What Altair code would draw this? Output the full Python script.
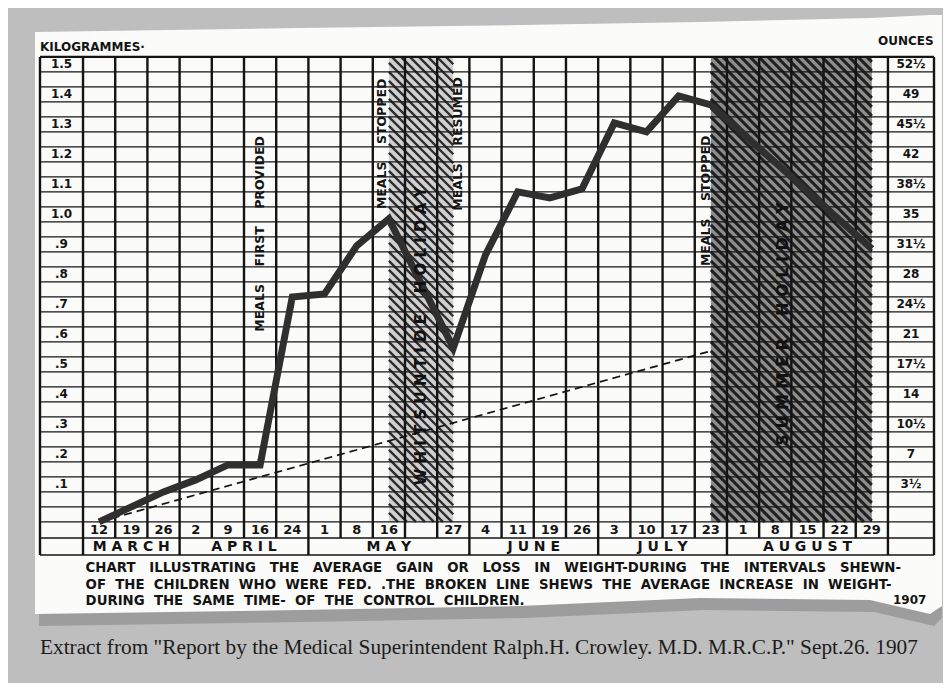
import math
import altair as alt
import pandas as pd

# ---------------- data ----------------
months = ["MARCH", "APRIL", "MAY", "JUNE", "JULY", "AUGUST"]
month_days = [
    ["12", "19", "26"],
    ["2", "9", "16", "24"],
    ["1", "8", "16", "", "27"],
    ["4", "11", "19", "26"],
    ["3", "10", "17", "23"],
    ["1", "8", "15", "22", "29"],
]
# weekly column index (0 = 12 March) and average gain (kg) of the fed children
fed_cols = [0, 1, 2, 3, 4, 5, 6, 7, 8, 9, 11, 12, 13, 14, 15, 16, 17, 18, 19, 24]
fed_kg = [0.00, 0.05, 0.10, 0.14, 0.19, 0.19, 0.75, 0.76, 0.92, 1.01,
          0.58, 0.89, 1.10, 1.08, 1.11, 1.33, 1.30, 1.42, 1.39, 0.91]
# control children (broken line)
control_cols = [0, 19]
control_kg = [0.00, 0.57]

kg_ticks = [0.1, 0.2, 0.3, 0.4, 0.5, 0.6, 0.7, 0.8, 0.9, 1.0, 1.1, 1.2, 1.3, 1.4, 1.5]
kg_labels = [".1", ".2", ".3", ".4", ".5", ".6", ".7", ".8", ".9",
             "1.0", "1.1", "1.2", "1.3", "1.4", "1.5"]
oz_labels = ["3½", "7", "10½", "14", "17½", "21", "24½", "28", "31½",
             "35", "38½", "42", "45½", "49", "52½"]

holiday_names = ["WHITSUNTIDE HOLIDAY", "SUMMER HOLIDAY"]
holiday_start = [9, 19]
holiday_end = [11, 24]
holiday_label_col = [10.0, 21.25]
holiday_label_kg = [0.62, 0.66]

note_texts = ["MEALS FIRST PROVIDED", "MEALS STOPPED", "MEALS RESUMED", "MEALS STOPPED"]
note_cols = [5.0, 8.8, 11.15, 18.85]
note_kg = [0.96, 1.26, 1.26, 1.07]

caption_lines = [
    "CHART ILLUSTRATING THE AVERAGE GAIN OR LOSS IN WEIGHT-DURING THE INTERVALS SHEWN-",
    "OF THE CHILDREN WHO WERE FED. .THE BROKEN LINE SHEWS THE AVERAGE INCREASE IN WEIGHT-",
    "DURING THE SAME TIME- OF THE CONTROL CHILDREN.",
]
year_text = "1907"
footer_text = 'Extract from "Report by the Medical Superintendent Ralph.H. Crowley. M.D. M.R.C.P." Sept.26. 1907'

# ---------------- layout ----------------
W, H = 935, 675
XD = [-2.33, 26.71]          # column units (1 = one week column)
YD = [-0.537, 1.713]         # kilograms
PXC = W / (XD[1] - XD[0])
PXK = H / (YD[1] - YD[0])

def c_of(px):   # page pixel -> column units
    return XD[0] + (px - 8) / PXC

def v_of(py):   # page pixel -> kg units
    return YD[1] - (py - 8) / PXK

def spaced(t, word_gap=3, letter_gap=0):
    nb = "\u00a0"
    words = t.split(" ")
    if letter_gap:
        words = [(nb * letter_gap).join(w) for w in words]
    return (nb * word_gap).join(words)

LEFT, RIGHT = c_of(40), c_of(934)
NCOL = sum(len(d) for d in month_days)
TOP = 1.55
ROW1 = v_of(538)
ROW2 = v_of(555)
FONT = "DejaVu Sans"
INK = "#141414"

xs = alt.Scale(domain=XD, nice=False, zero=False)
ys = alt.Scale(domain=YD, nice=False, zero=False)

def X(f):
    return alt.X(f, type="quantitative", scale=xs, axis=None)

def Y(f):
    return alt.Y(f, type="quantitative", scale=ys, axis=None)

# ---------------- paper ----------------
paper_px = [35, 300, 520, 700, 870, 930, 942]
paper_top_px = [32, 28, 25, 22, 18, 15, 15]
paper_bot_px = [614, 610, 606, 598, 600, 614, 606]
paper = pd.DataFrame({"c": [c_of(p) for p in paper_px],
                      "t": [v_of(p) for p in paper_top_px],
                      "b": [v_of(p) for p in paper_bot_px]})
shadow = pd.DataFrame({"c": [c_of(min(p + 4, 942)) for p in paper_px],
                       "t": [v_of(p + 12) for p in paper_top_px],
                       "b": [v_of(p + 12) for p in paper_bot_px]})
shadow_layer = alt.Chart(shadow).mark_area(color="#9d9d9d").encode(x=X("c"), y=Y("t"), y2="b")
paper_layer = alt.Chart(paper).mark_area(color="#fbfbfa").encode(x=X("c"), y=Y("t"), y2="b")

# ---------------- hatched holidays ----------------
hol_rect = pd.DataFrame({"c": [s + 0.5 for s in holiday_start],
                         "c2": [e + 0.5 for e in holiday_end],
                         "v": 0.0, "v2": TOP, "k": ["w", "s"]})
hol_fill_layer = alt.Chart(hol_rect).mark_rect(strokeWidth=0).encode(
    x=X("c"), x2="c2", y=Y("v"), y2="v2",
    color=alt.Color("k:N", scale=alt.Scale(domain=["w", "s"], range=["#d0d0d0", "#8e8e8e"]),
                    legend=None))

# diagonal hatch strokes ("\" direction), generated from the holiday extents
PERIOD = 9.0
hx, hy, hx2, hy2, hk, hw = [], [], [], [], [], []
for k, wdt, (s_col, e_col) in zip(["w", "s"], [2.3, 3.0], zip(holiday_start, holiday_end)):
    x0 = 8 + (s_col + 0.5 - XD[0]) * PXC
    x1 = 8 + (e_col + 0.5 - XD[0]) * PXC
    y0 = 8 + (YD[1] - TOP) * PXK
    y1 = 8 + (YD[1] - 0.0) * PXK
    s = x0 - y1
    while s < x1 - y0:
        xa = max(x0, s + y0)
        xb = min(x1, s + y1)
        if xb > xa:
            hx.append(c_of(xa)); hy.append(v_of(xa - s))
            hx2.append(c_of(xb)); hy2.append(v_of(xb - s))
            hk.append(k); hw.append(wdt)
        s += PERIOD
hatch_df = pd.DataFrame({"c": hx, "v": hy, "c2": hx2, "v2": hy2, "k": hk, "w": hw})
hatch_layer = alt.Chart(hatch_df).mark_rule().encode(
    x=X("c"), y=Y("v"), x2="c2", y2="v2",
    color=alt.Color("k:N", scale=alt.Scale(domain=["w", "s"], range=["#2c2c2c", "#202020"]),
                    legend=None),
    strokeWidth=alt.StrokeWidth("w:Q", scale=None, legend=None))

# ---------------- grid ----------------
hlines = [round(0.05 * i, 2) for i in range(0, 32)] + [ROW1, ROW2]
hgrid = pd.DataFrame({"c": LEFT, "c2": RIGHT, "v": hlines})
hgrid_layer = alt.Chart(hgrid).mark_rule(color=INK, strokeWidth=1.4).encode(
    x=X("c"), x2="c2", y=Y("v"))
top_layer = alt.Chart(pd.DataFrame({"c": [LEFT], "c2": [RIGHT], "v": [TOP]})).mark_rule(
    color=INK, strokeWidth=2.4).encode(x=X("c"), x2="c2", y=Y("v"))

month_edges = [0]
for d in month_days:
    month_edges.append(month_edges[-1] + len(d))
vcols = list(range(NCOL + 1))
vgrid = pd.DataFrame({
    "c": vcols + [LEFT, RIGHT],
    "v": [ROW2 if c in month_edges else ROW1 for c in vcols] + [ROW2, ROW2],
    "v2": TOP,
})
vgrid_layer = alt.Chart(vgrid).mark_rule(color=INK, strokeWidth=2.4).encode(
    x=X("c"), y=Y("v"), y2="v2")

# ---------------- lines ----------------
fed = pd.DataFrame({"c": [c + 0.5 for c in fed_cols], "kg": fed_kg})
ctrl = pd.DataFrame({"c": [c + 0.5 for c in control_cols], "kg": control_kg})
ctrl_layer = alt.Chart(ctrl).mark_line(color=INK, strokeWidth=1.8, strokeDash=[8, 5]).encode(
    x=X("c"), y=Y("kg"))
fed_layer = alt.Chart(fed).mark_line(color="#2f2f2f", strokeWidth=7, strokeJoin="miter",
                                     strokeCap="butt").encode(x=X("c"), y=Y("kg"))

# ---------------- texts ----------------
ticks = pd.DataFrame({"kg": kg_ticks, "kl": kg_labels, "ol": oz_labels,
                      "cl": (LEFT + 0) / 2, "cr": (NCOL + RIGHT) / 2})
kg_layer = alt.Chart(ticks).mark_text(font=FONT, fontSize=12, fontWeight="bold", color=INK,
                                      baseline="bottom", dy=-1).encode(
    x=X("cl"), y=Y("kg"), text="kl:N")
oz_layer = alt.Chart(ticks).mark_text(font=FONT, fontSize=12, fontWeight="bold", color=INK,
                                      baseline="bottom", dy=-1).encode(
    x=X("cr"), y=Y("kg"), text="ol:N")

days_rows = [day for d in month_days for day in d]
days = pd.DataFrame({"c": [i + 0.5 for i in range(NCOL)], "t": days_rows, "v": ROW1 / 2})
days_layer = alt.Chart(days).mark_text(font=FONT, fontSize=13, fontWeight="bold", color=INK,
                                       baseline="middle").encode(
    x=X("c"), y=Y("v"), text="t:N")
mon = pd.DataFrame({"c": [(a + b) / 2 for a, b in zip(month_edges[:-1], month_edges[1:])],
                    "t": [spaced(m, letter_gap=1) for m in months], "v": (ROW1 + ROW2) / 2})
mon_layer = alt.Chart(mon).mark_text(font=FONT, fontSize=14, fontWeight="bold", color=INK,
                                     baseline="middle").encode(
    x=X("c"), y=Y("v"), text="t:N")

notes = pd.DataFrame({"c": [c + 0.5 for c in note_cols], "kg": note_kg,
                      "t": [spaced(t, word_gap=4) for t in note_texts]})
notes_layer = alt.Chart(notes).mark_text(font=FONT, fontSize=12.5, fontWeight="bold", color=INK,
                                         angle=270, baseline="middle", align="center").encode(
    x=X("c"), y=Y("kg"), text="t:N")
hol = pd.DataFrame({"c": [c + 0.5 for c in holiday_label_col], "kg": holiday_label_kg,
                    "t": [spaced(t, word_gap=4, letter_gap=1) for t in holiday_names],
                    "fs": [15, 16]})
hol_layer = alt.Chart(hol).mark_text(font=FONT, fontWeight="bold", color="#111",
                                     angle=270, baseline="middle", align="center").encode(
    x=X("c"), y=Y("kg"), text="t:N",
    size=alt.Size("fs:Q", scale=None, legend=None))

cap = pd.DataFrame({"t": [spaced(l, word_gap=g) for l, g in zip(caption_lines, [3, 2, 2])],
                    "v": [v_of(568), v_of(585), v_of(601)], "c": 0.08})
cap_layer = alt.Chart(cap).mark_text(font=FONT, fontSize=13.3, fontWeight="bold", color=INK,
                                     align="left", baseline="middle").encode(
    x=X("c"), y=Y("v"), text="t:N")

misc = pd.DataFrame({
    "t": ["KILOGRAMMES·", "OUNCES", year_text],
    "c": [LEFT, c_of(878), c_of(893)],
    "v": [v_of(54), v_of(48), v_of(607)],
    "fs": [12, 12, 12],
})
head_layer = alt.Chart(misc).mark_text(font=FONT, fontWeight="bold", color=INK,
                                       align="left", baseline="bottom").encode(
    x=X("c"), y=Y("v"), text="t:N", size=alt.Size("fs:Q", scale=None, legend=None))

foot = pd.DataFrame({"t": [footer_text], "c": [c_of(40)], "v": [v_of(648)]})
foot_layer = alt.Chart(foot).mark_text(
    font="Liberation Serif", fontSize=21.3, color="#1c1c1c", align="left", baseline="middle").encode(
    x=X("c"), y=Y("v"), text="t:N")

chart = alt.layer(
    shadow_layer, paper_layer, hol_fill_layer, hatch_layer, hgrid_layer, top_layer, vgrid_layer,
    ctrl_layer, fed_layer, kg_layer, oz_layer, days_layer, mon_layer, notes_layer, hol_layer,
    cap_layer, head_layer, foot_layer,
).properties(
    width=W, height=H, padding=0, background="#bebebe",
    autosize=alt.AutoSizeParams(type="fit", contains="padding"),
).resolve_scale(color="independent").configure_view(strokeWidth=0)

chart.save("out.html", embed_options={"renderer": "svg", "actions": False})
